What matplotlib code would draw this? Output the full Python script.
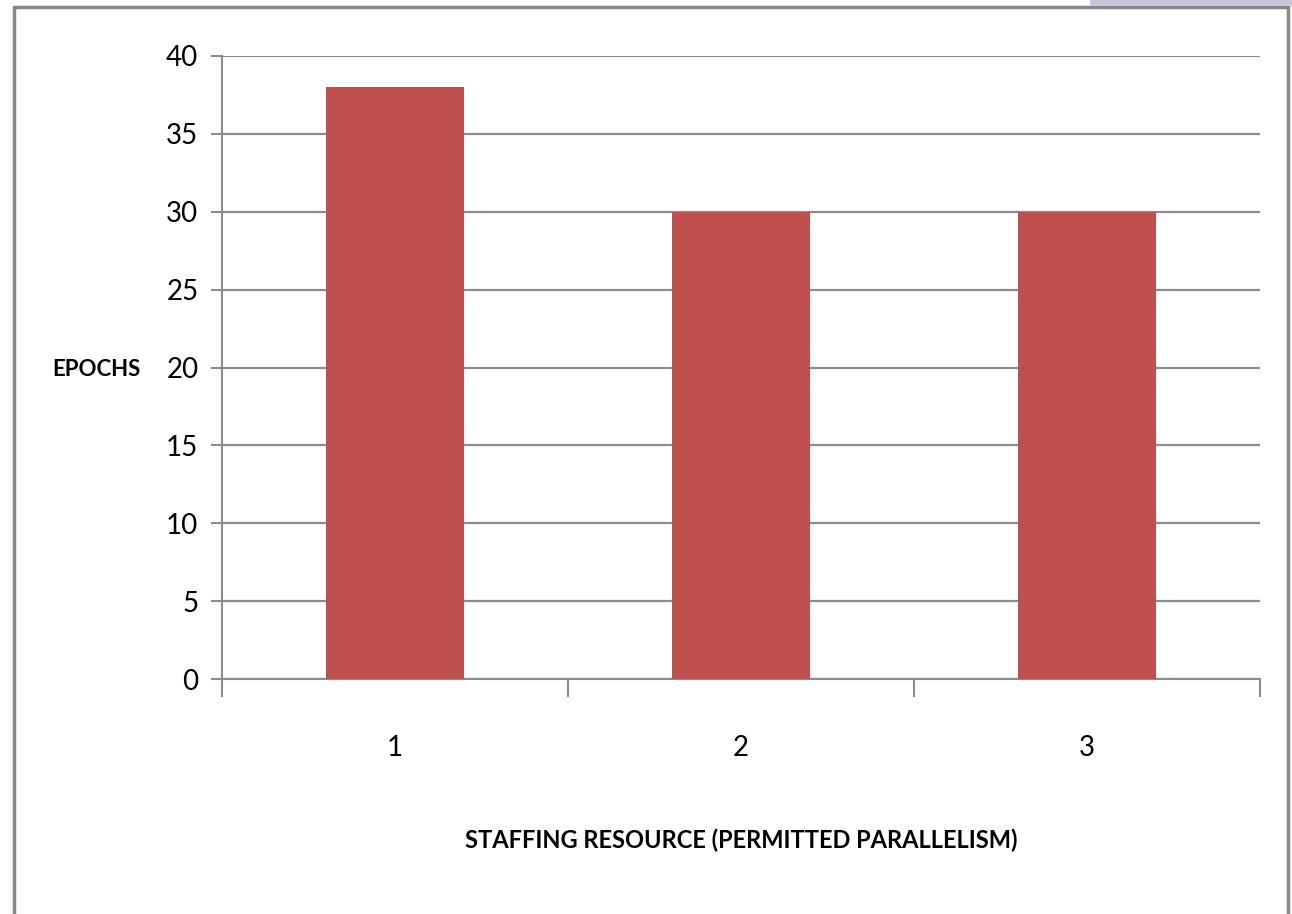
import matplotlib.pyplot as plt
from matplotlib.patches import Rectangle

categories = ["1", "2", "3"]
epochs = [38, 30, 30]

bar_color = "#C0504D"
line_color = "#8c8c8c"

plt.rcParams['font.family'] = ['Lato', 'DejaVu Sans']

fig = plt.figure(figsize=(12.92, 9.14), dpi=100)
ax = fig.add_axes([222 / 1292, 1 - 679 / 914, (1260 - 222) / 1292, (679 - 56) / 914])

x = list(range(len(categories)))
ax.bar(x, epochs, width=0.4, color=bar_color, zorder=3)

ax.set_xlim(-0.5, len(categories) - 0.5)
ax.set_ylim(0, 40)
ax.set_yticks(range(0, 41, 5))
ax.yaxis.grid(True, color=line_color, linewidth=1.6, zorder=0)
ax.set_axisbelow(True)

# category ticks sit on the boundaries, labels in the middle
ax.set_xticks([i - 0.5 for i in range(len(categories) + 1)])
ax.set_xticklabels([])
ax.set_xticks(x, minor=True)
ax.set_xticklabels(categories, minor=True, fontsize=20)
ax.tick_params(axis='x', which='major', length=13, width=1.5, color=line_color, direction='out')
ax.tick_params(axis='x', which='minor', length=0, pad=40)
ax.tick_params(axis='y', length=8, width=1.5, color=line_color, labelsize=20, pad=9)

for s in ['top', 'right']:
    ax.spines[s].set_visible(False)
for s in ['left', 'bottom']:
    ax.spines[s].set_color(line_color)
    ax.spines[s].set_linewidth(1.5)

fig.text(52 / 1292, 1 - 370 / 914, "EPOCHS", fontsize=16, fontweight='bold', va='center', ha='left')
fig.text(741 / 1292, 1 - 840 / 914, "STAFFING RESOURCE (PERMITTED PARALLELISM)",
         fontsize=17, fontweight='bold', va='center', ha='center')

# outer frame of the chart
fig.patches.append(Rectangle((14 / 1292, -0.05), (1288 - 14) / 1292, 1.05 - 7 / 914,
                             transform=fig.transFigure, fill=False,
                             edgecolor="#888888", linewidth=2.5))
fig.patches.append(Rectangle((1090 / 1292, 1 - 6 / 914), 202 / 1292, 6 / 914,
                             transform=fig.transFigure, facecolor="#c9c6da",
                             edgecolor='none'))

fig.savefig("out.png", dpi=100)
